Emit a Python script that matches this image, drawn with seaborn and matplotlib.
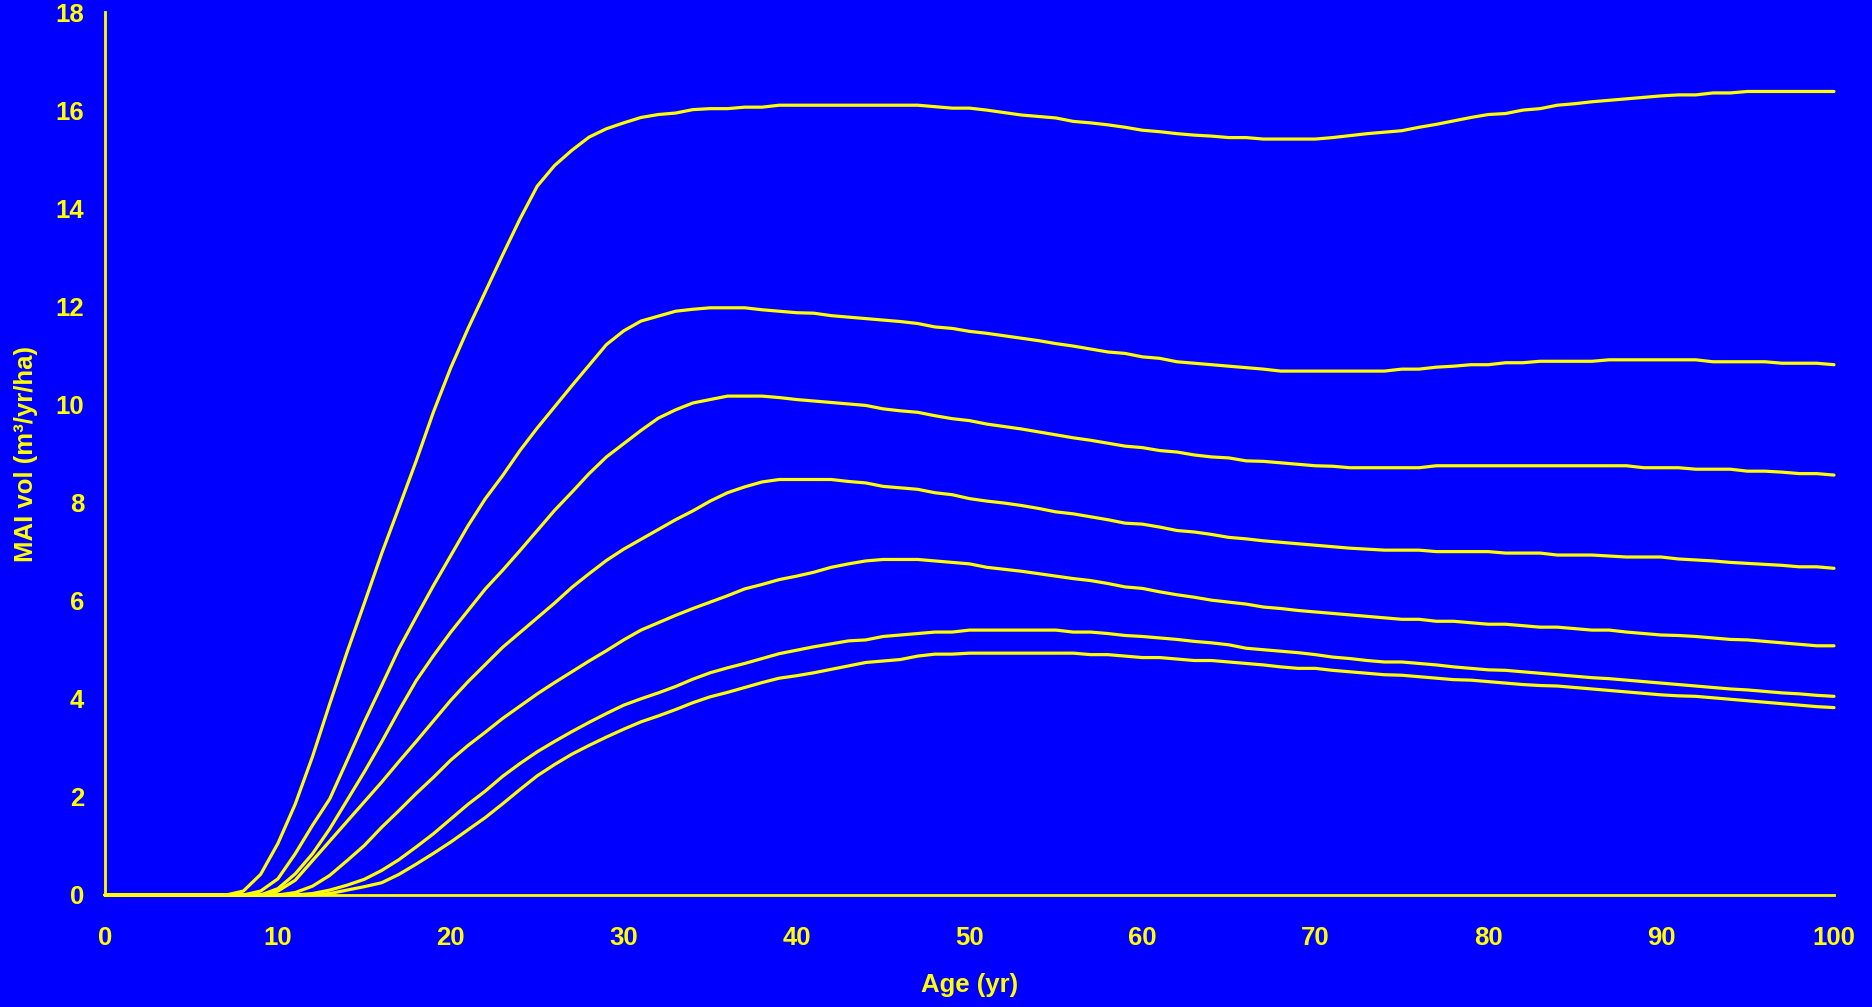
import numpy as np
import pandas as pd
import matplotlib
matplotlib.use("Agg")
import matplotlib.pyplot as plt
import seaborn as sns

ages = list(range(0, 101))

site_1 = [0, 0, 0, 0, 0, 0, 0, 0,
          0.08, 0.42, 1.05, 1.85, 2.82, 3.9, 4.95, 5.95, 6.96, 7.9, 8.85, 9.85,
          10.75, 11.55, 12.3, 13.05, 13.78, 14.45, 14.87, 15.18, 15.45, 15.62,
          15.74, 15.85, 15.91, 15.94, 16.01, 16.03, 16.03, 16.06, 16.06,
          16.1, 16.1, 16.1, 16.1, 16.1, 16.1, 16.1, 16.1, 16.1,
          16.07, 16.04, 16.04, 16.0, 15.95, 15.9, 15.87, 15.84, 15.77, 15.74,
          15.7, 15.65, 15.59, 15.56, 15.52, 15.49, 15.47, 15.44, 15.44, 15.41,
          15.41, 15.41, 15.41,
          15.44, 15.48, 15.52, 15.55, 15.58, 15.65, 15.71, 15.78, 15.85, 15.91,
          15.93, 16.0, 16.03, 16.1, 16.13, 16.17, 16.2, 16.23, 16.26, 16.29,
          16.31, 16.31, 16.35, 16.35,
          16.38, 16.38, 16.38, 16.38, 16.38, 16.38]

site_2 = [0, 0, 0, 0, 0, 0, 0, 0, 0,
          0.08, 0.33, 0.84, 1.42, 1.96, 2.74, 3.53, 4.27, 5.02, 5.67, 6.31,
          6.92, 7.53, 8.08, 8.55, 9.06, 9.52, 9.95, 10.38, 10.8, 11.22,
          11.5, 11.7, 11.8, 11.9, 11.94, 11.97, 11.97, 11.97, 11.93, 11.9,
          11.87, 11.86, 11.81, 11.78, 11.75, 11.72, 11.69, 11.65, 11.58, 11.55,
          11.49, 11.45, 11.4, 11.35, 11.3, 11.24, 11.19, 11.13, 11.07, 11.04,
          10.97, 10.94, 10.87, 10.84, 10.81, 10.78, 10.75, 10.72, 10.68, 10.68,
          10.68, 10.68, 10.68, 10.68, 10.68, 10.72, 10.72, 10.76, 10.78, 10.81,
          10.81, 10.85, 10.85, 10.88, 10.88, 10.88, 10.88, 10.91, 10.91, 10.91,
          10.91, 10.91, 10.91, 10.87, 10.87, 10.87, 10.87, 10.84, 10.84, 10.84,
          10.81]

site_3 = [0, 0, 0, 0, 0, 0, 0, 0, 0, 0,
          0.13, 0.43, 0.84, 1.35, 1.93, 2.51, 3.12, 3.76, 4.37, 4.88,
          5.36, 5.8, 6.24, 6.62, 7.02, 7.43, 7.84, 8.21, 8.59, 8.93,
          9.2, 9.47, 9.72, 9.89, 10.03, 10.1, 10.17, 10.17, 10.17, 10.14,
          10.1, 10.07, 10.04, 10.01, 9.98, 9.91, 9.87, 9.84, 9.77, 9.71,
          9.67, 9.6, 9.55, 9.5, 9.44, 9.38, 9.32, 9.27, 9.21, 9.15,
          9.12, 9.06, 9.03, 8.97, 8.93, 8.91, 8.85, 8.84, 8.81, 8.78,
          8.75, 8.74, 8.71, 8.71, 8.71, 8.71, 8.71, 8.75, 8.75, 8.75,
          8.75, 8.75, 8.75, 8.75, 8.75, 8.75, 8.75, 8.75, 8.75, 8.71,
          8.71, 8.71, 8.68, 8.68, 8.68, 8.64, 8.64, 8.62, 8.59, 8.59,
          8.56]

site_4 = [0, 0, 0, 0, 0, 0, 0, 0, 0, 0,
          0.08, 0.3, 0.7, 1.1, 1.5, 1.9, 2.3, 2.72, 3.13, 3.55,
          3.97, 4.35, 4.7, 5.05, 5.35, 5.65, 5.95, 6.27, 6.55, 6.82,
          7.05, 7.25, 7.45, 7.65, 7.83, 8.03, 8.2, 8.32, 8.42, 8.47,
          8.47, 8.47, 8.47, 8.43, 8.4, 8.33, 8.3, 8.27, 8.2, 8.16,
          8.08, 8.03, 7.99, 7.94, 7.88, 7.81, 7.77, 7.71, 7.65, 7.58,
          7.56, 7.5, 7.43, 7.4, 7.35, 7.29, 7.26, 7.22, 7.19, 7.16,
          7.13, 7.1, 7.07, 7.05, 7.03, 7.03, 7.03, 7.0, 7.0, 7.0,
          7.0, 6.97, 6.97, 6.97, 6.93, 6.93, 6.93, 6.91, 6.89, 6.89,
          6.89, 6.85, 6.83, 6.81, 6.78, 6.76, 6.74, 6.72, 6.69, 6.69,
          6.66]

site_5 = [0, 0, 0, 0, 0, 0, 0, 0, 0, 0, 0,
          0.05, 0.18, 0.4, 0.7, 1.01, 1.38, 1.72, 2.07, 2.4,
          2.75, 3.05, 3.32, 3.6, 3.85, 4.1, 4.33, 4.55, 4.77, 4.98,
          5.2, 5.4, 5.55, 5.7, 5.84, 5.97, 6.1, 6.24, 6.33, 6.43,
          6.5, 6.58, 6.68, 6.75, 6.81, 6.84, 6.84, 6.84, 6.81, 6.78,
          6.75, 6.68, 6.64, 6.6, 6.55, 6.5, 6.45, 6.41, 6.35, 6.28,
          6.25, 6.18, 6.12, 6.07, 6.01, 5.97, 5.93, 5.87, 5.84, 5.8,
          5.77, 5.74, 5.71, 5.68, 5.65, 5.62, 5.62, 5.58, 5.58, 5.55,
          5.52, 5.52, 5.49, 5.46, 5.46, 5.43, 5.4, 5.4, 5.36, 5.33,
          5.3, 5.29, 5.27, 5.24, 5.21, 5.2, 5.17, 5.14, 5.11, 5.08,
          5.08]

site_6 = [0, 0, 0, 0, 0, 0, 0, 0, 0, 0, 0, 0,
          0.03, 0.1, 0.2, 0.32, 0.5, 0.72, 0.98, 1.25,
          1.55, 1.85, 2.12, 2.42, 2.68, 2.92, 3.13, 3.33, 3.52, 3.7,
          3.87, 4.0, 4.12, 4.25, 4.4, 4.53, 4.63, 4.72, 4.82, 4.92,
          4.99, 5.06, 5.12, 5.18, 5.2, 5.27, 5.3, 5.33, 5.36, 5.36,
          5.4, 5.4, 5.4, 5.4, 5.4, 5.4, 5.36, 5.36, 5.33, 5.29,
          5.27, 5.24, 5.21, 5.17, 5.14, 5.1, 5.03, 5.0, 4.97, 4.94,
          4.9, 4.85, 4.82, 4.78, 4.75, 4.75, 4.72, 4.69, 4.65, 4.62,
          4.59, 4.58, 4.55, 4.52, 4.49, 4.46, 4.43, 4.41, 4.38, 4.35,
          4.32, 4.29, 4.26, 4.23, 4.2, 4.18, 4.15, 4.12, 4.1, 4.07,
          4.05]

site_7 = [0, 0, 0, 0, 0, 0, 0, 0, 0, 0, 0, 0, 0,
          0.03, 0.1, 0.17, 0.25, 0.42, 0.63, 0.85,
          1.08, 1.33, 1.58, 1.86, 2.15, 2.43, 2.66, 2.87, 3.05, 3.22,
          3.38, 3.53, 3.65, 3.78, 3.92, 4.04, 4.13, 4.23, 4.33, 4.42,
          4.47, 4.53, 4.6, 4.67, 4.74, 4.77, 4.8, 4.87, 4.91, 4.91,
          4.93, 4.93, 4.93, 4.93, 4.93, 4.93, 4.93, 4.9, 4.9, 4.87,
          4.84, 4.84, 4.81, 4.78, 4.78, 4.75, 4.72, 4.69, 4.65, 4.62,
          4.62, 4.58, 4.55, 4.52, 4.49, 4.48, 4.45, 4.42, 4.39, 4.38,
          4.35, 4.32, 4.29, 4.27, 4.26, 4.23, 4.2, 4.17, 4.14, 4.11,
          4.08, 4.06, 4.05, 4.02, 3.99, 3.96, 3.93, 3.9, 3.87, 3.84,
          3.82]

series = {"1": site_1, "2": site_2, "3": site_3, "4": site_4,
          "5": site_5, "6": site_6, "7": site_7}

x_ticks = [0, 10, 20, 30, 40, 50, 60, 70, 80, 90, 100]
y_ticks = [0, 2, 4, 6, 8, 10, 12, 14, 16, 18]
x_label = "Age (yr)"
y_label = "MAI vol (m³/yr/ha)"

frames = []
for name, vals in series.items():
    assert len(vals) == len(ages), (name, len(vals))
    frames.append(pd.DataFrame({"age": ages, "mai": vals, "site": name}))
df = pd.concat(frames, ignore_index=True)

BLUE = "#0000FF"
YELLOW = "#FFFF00"

sns.set_style("white")
plt.rcParams["font.family"] = ["Liberation Sans", "DejaVu Sans"]
plt.rcParams["font.weight"] = "bold"

fig = plt.figure(figsize=(18.72, 10.07), dpi=100, facecolor=BLUE)
ax = fig.add_axes([105 / 1872, 1 - 895 / 1007, (1834 - 105) / 1872, (895 - 12) / 1007])
ax.set_facecolor(BLUE)

sns.lineplot(data=df, x="age", y="mai", hue="site", units="site", estimator=None,
             palette=[YELLOW] * 7, legend=False, linewidth=2.3, ax=ax,
             solid_joinstyle="round", solid_capstyle="round")

ax.set_xlim(0, 100)
ax.set_ylim(0, 18)
ax.set_xticks(x_ticks)
ax.set_yticks(y_ticks)
ax.set_xticklabels([str(t) for t in x_ticks])
ax.set_yticklabels([str(t) for t in y_ticks])

for s in ["top", "right"]:
    ax.spines[s].set_visible(False)
for s in ["left", "bottom"]:
    ax.spines[s].set_color(YELLOW)
    ax.spines[s].set_linewidth(2.0)

ax.tick_params(axis="both", colors=YELLOW, direction="out", length=6, width=1.2,
               labelsize=18.5, labelcolor=YELLOW)
ax.tick_params(axis="x", pad=16)
ax.tick_params(axis="y", pad=9)
for lab in ax.get_xticklabels() + ax.get_yticklabels():
    lab.set_fontweight("bold")

ax.set_xlabel(x_label, color=YELLOW, fontsize=18.5, fontweight="bold", va="center")
ax.set_ylabel(y_label, color=YELLOW, fontsize=18.5, fontweight="bold", va="center")
ax.xaxis.set_label_coords(0.5, (895 - 985) / 883)
ax.yaxis.set_label_coords((26 - 105) / 1729, 0.5)
ax.grid(False)

for line in ax.get_lines():
    line.set_clip_on(False)

fig.savefig("out.png", dpi=100, facecolor=BLUE)
